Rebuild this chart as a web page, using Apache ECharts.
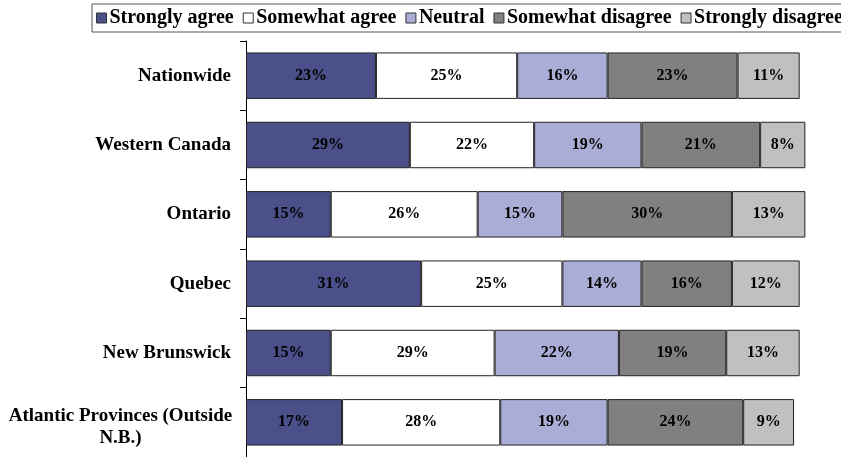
<!DOCTYPE html>
<html><head><meta charset="utf-8">
<script src="https://cdn.jsdelivr.net/npm/echarts@6/dist/echarts.min.js"></script>
<style>html,body{margin:0;padding:0;background:#fff}#c{width:841px;height:457px}</style>
</head><body><div id="c"></div>
<script>
const categories = ["Nationwide","Western Canada","Ontario","Quebec","New Brunswick","Atlantic Provinces (Outside\nN.B.)"];
const seriesNames = ["Strongly agree","Somewhat agree","Neutral","Somewhat disagree","Strongly disagree"];
const stronglyAgree = [23,29,15,31,15,17];
const somewhatAgree = [25,22,26,25,29,28];
const neutral = [16,19,15,14,22,19];
const somewhatDisagree = [23,21,30,16,19,24];
const stronglyDisagree = [11,8,13,12,13,9];
const colors = ["#4B4F8A","#FFFFFF","#AAADD5","#808080","#C0C0C0"];
const values = [stronglyAgree,somewhatAgree,neutral,somewhatDisagree,stronglyDisagree];
const font = "'Liberation Serif','Times New Roman',serif";
const chart = echarts.init(document.getElementById('c'), null, {renderer:'canvas'});
chart.setOption({
  animation:false,
  textStyle:{fontFamily:font},
  legend:{
    left:92, top:4, width:1200, itemWidth:10, itemHeight:10, itemGap:9,
    padding:[4,4,4,4],
    borderColor:'#555', borderWidth:1,
    icon:'rect',
    textStyle:{fontFamily:font,fontWeight:'bold',fontSize:20,color:'#000',padding:[0,0,0,-2]},
    data:seriesNames.map((n,i)=>({name:n,itemStyle:{borderColor:'#333',borderWidth:1}}))
  },
  grid:{left:246, width:565, top:41, height:420},
  xAxis:{type:'value',min:0,max:100,show:false},
  yAxis:{type:'category',
    data:categories.map(c=>c.indexOf('\n')>=0?{value:c,textStyle:{padding:[9,0,0,0]}}:c),
    inverse:true,
    axisLine:{show:true,lineStyle:{color:'#000',width:1}},
    axisTick:{show:true,length:6,lineStyle:{color:'#000'}},
    axisLabel:{margin:15,fontFamily:font,fontWeight:'bold',fontSize:19,color:'#000',align:'right',lineHeight:22,
      formatter:function(v){
        if(v.indexOf('\n')>=0){return v.split('\n').map(s=>'{c|'+s+'}').join('\n');}
        return v;
      },
      rich:{c:{width:221,align:'center',fontFamily:font,fontWeight:'bold',fontSize:19,color:'#000',lineHeight:22}}
    }
  },
  series:seriesNames.map((n,i)=>({
    name:n,type:'bar',stack:'all',barCategoryGap:'33%',
    data:values[i],
    itemStyle:{color:colors[i],borderColor:'#222',borderWidth:1},
    label:{show:true,position:'inside',formatter:'{c}%',fontFamily:font,fontWeight:'bold',fontSize:16,color:'#000'}
  }))
});
</script></body></html>
